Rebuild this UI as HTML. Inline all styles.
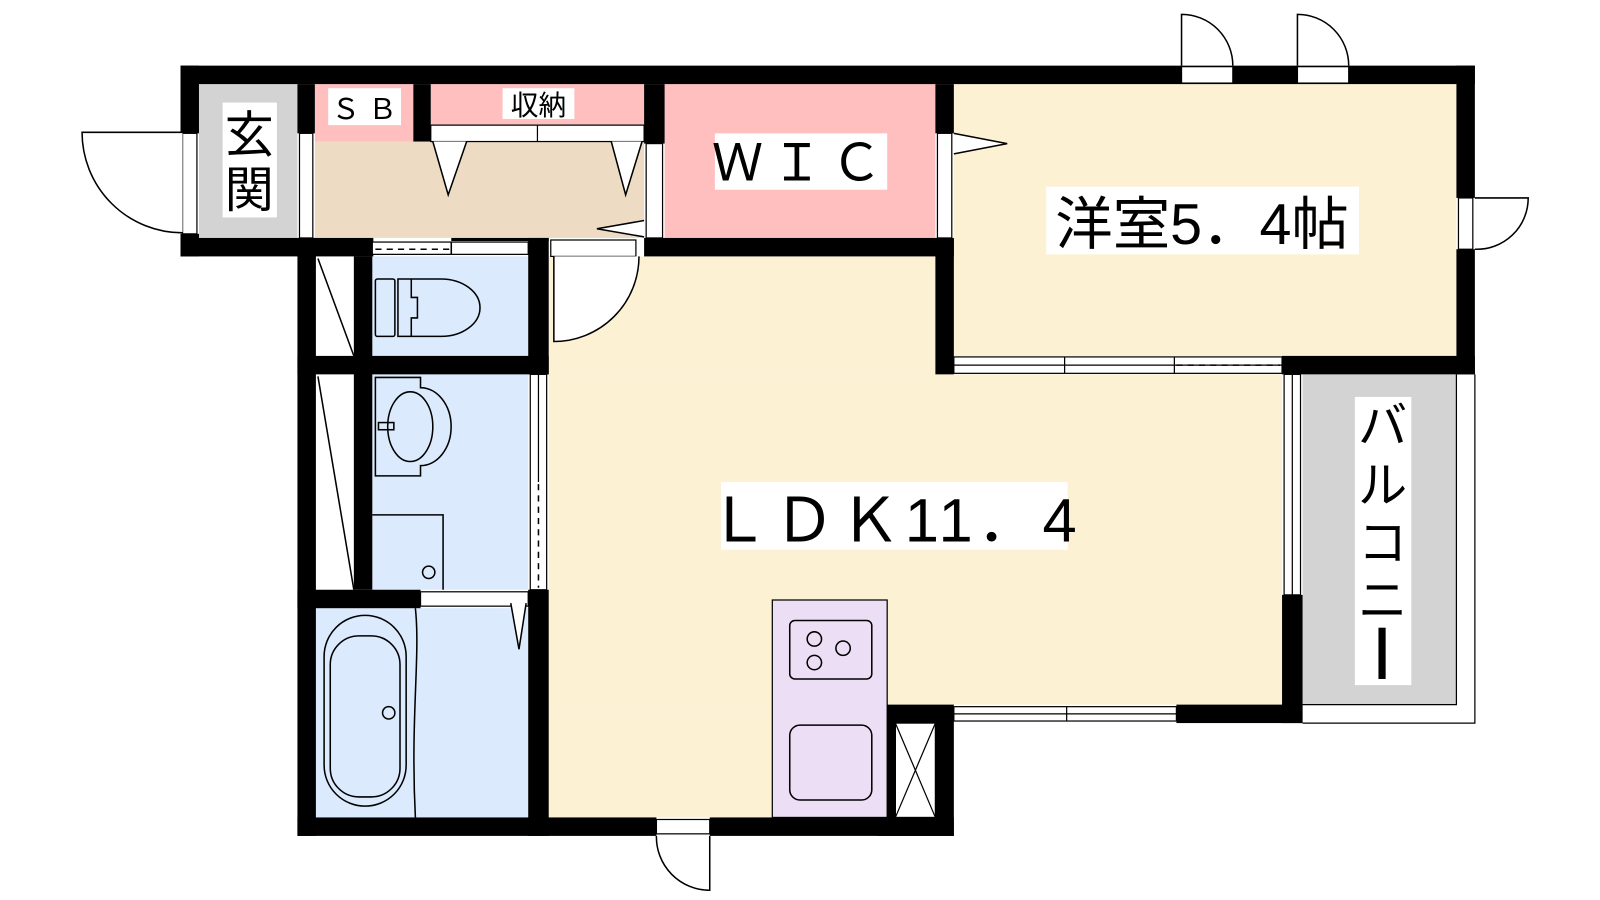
<!DOCTYPE html>
<html><head><meta charset="utf-8"><style>
html,body{margin:0;padding:0;background:#fff;}
svg{display:block}
text{font-family:"Liberation Sans","Noto Sans CJK JP",sans-serif;fill:#000}
</style></head><body>
<svg width="1600" height="900" viewBox="0 0 1560 877.5" xmlns="http://www.w3.org/2000/svg">
<!-- fills -->
<rect x="194" y="82" width="96" height="150" fill="#d3d3d3"/>
<rect x="307" y="82" width="96" height="56" fill="#ffbfbf"/>
<rect x="420" y="82" width="208" height="40" fill="#ffbfbf"/>
<rect x="307" y="138" width="321" height="94" fill="#eddcc3"/>
<rect x="648" y="82" width="264" height="150" fill="#ffbfbf"/>
<rect x="930" y="82" width="490" height="265" fill="#fdf1d3"/>
<rect x="535" y="250" width="377" height="115" fill="#fdf1d3"/>
<rect x="535" y="365" width="715" height="322" fill="#fdf1d3"/>
<rect x="535" y="687" width="320" height="110" fill="#fdf1d3"/>
<rect x="1270" y="365" width="150" height="322" fill="#d3d3d3"/>
<rect x="363" y="250" width="152" height="97" fill="#dbeafd"/>
<rect x="363" y="365" width="152" height="210" fill="#dbeafd"/>
<rect x="308" y="593" width="207" height="204" fill="#dbeafd"/>
<rect x="308" y="250" width="37" height="97" fill="#fff"/>
<rect x="308" y="365" width="37" height="210" fill="#fff"/>
<!-- walls -->
<g fill="#000">
<rect x="176" y="64" width="1262" height="18"/>
<rect x="176" y="64" width="18" height="66"/>
<rect x="176" y="228" width="18" height="22"/>
<rect x="176" y="232" width="188" height="18"/>
<rect x="290" y="82" width="17" height="48"/>
<rect x="403" y="82" width="17" height="56"/>
<rect x="628" y="82" width="20" height="58"/>
<rect x="628" y="232" width="302" height="18"/>
<rect x="440" y="232" width="95" height="3"/>
<rect x="515" y="232" width="20" height="133"/>
<rect x="912" y="82" width="18" height="48"/>
<rect x="912" y="232" width="18" height="133"/>
<rect x="1420" y="64" width="18" height="129"/>
<rect x="1420" y="243" width="18" height="122"/>
<rect x="1250" y="347" width="188" height="18"/>
<rect x="290" y="232" width="18" height="583"/>
<rect x="345" y="250" width="18" height="325"/>
<rect x="290" y="347" width="245" height="18"/>
<rect x="515" y="575" width="20" height="240"/>
<rect x="290" y="575" width="120" height="18"/>
<rect x="290" y="797" width="350" height="18"/>
<rect x="692" y="797" width="238" height="18"/>
<rect x="855" y="687" width="75" height="128"/>
<rect x="1147" y="687" width="123" height="18"/>
<rect x="1250" y="580" width="20" height="125"/>
</g>
<!-- openings / windows -->
<g fill="#fff" stroke="#000" stroke-width="1.2">
<rect x="178" y="130" width="14" height="98"/>
<rect x="292" y="130" width="13" height="102"/>
<rect x="420" y="122" width="208" height="16"/>
<line x1="524" y1="122" x2="524" y2="138"/>
<rect x="630" y="140" width="16" height="92"/>
<rect x="914" y="130" width="14" height="102"/>
<rect x="1422" y="193" width="14" height="50"/>
<rect x="1152" y="65" width="50" height="16"/>
<rect x="1265" y="65" width="50" height="16"/>
<rect x="363" y="236" width="152" height="12"/>
<rect x="537" y="234" width="83" height="16"/>
<rect x="930" y="348" width="320" height="16"/>
<line x1="930" y1="356" x2="1250" y2="356"/>
<line x1="1038" y1="348" x2="1038" y2="364"/>
<line x1="1145" y1="348" x2="1145" y2="364"/>
<rect x="1252" y="365" width="16" height="215"/>
<line x1="1260" y1="365" x2="1260" y2="580"/>
<rect x="517" y="365" width="16" height="210"/>
<line x1="525" y1="365" x2="525" y2="470"/>
<rect x="410" y="577" width="105" height="14"/>
<rect x="930" y="689" width="217" height="14"/>
<line x1="930" y1="696" x2="1147" y2="696"/>
<line x1="1040" y1="689" x2="1040" y2="703"/>
<rect x="640" y="799" width="52" height="14"/>
<rect x="873" y="705" width="39" height="92"/>
<line x1="873" y1="705" x2="912" y2="797"/>
<line x1="912" y1="705" x2="873" y2="797"/>
<!-- balcony rail -->
<polyline points="1438,365 1438,705 1270,705" fill="none"/>
<polyline points="1420,365 1420,687 1270,687" fill="none"/>
</g>
<g stroke="#000" stroke-width="1.5" fill="none">
<line x1="440" y1="236" x2="440" y2="248"/>
<line x1="366" y1="243" x2="438" y2="243" stroke-dasharray="6,5"/>
<line x1="1147" y1="356" x2="1248" y2="356" stroke-dasharray="6,5"/>
<line x1="525" y1="472" x2="525" y2="573" stroke-dasharray="6,5"/>
<!-- doors -->
<path d="M178,129 L80,129 A98,98 0 0 0 178,227" fill="#fff"/>
<path d="M540,250 L540,333 A83,83 0 0 0 623,250" fill="#fff"/>
<path d="M1152,64 L1152,14 A50,50 0 0 1 1202,64"/>
<path d="M1265,64 L1265,14 A50,50 0 0 1 1315,64"/>
<path d="M1438,193 L1490,193 A50,50 0 0 1 1438,243"/>
<path d="M692,815 L692,868 A52,52 0 0 1 640,815"/>
<!-- triangles -->
<path d="M422,138 L437,190 L455,138" fill="#fff"/>
<path d="M596,138 L610,190 L626,138" fill="#fff"/>
<path d="M628,215 L582,223 L628,231" fill="#fff"/>
<path d="M930,130 L982,140 L930,150" fill="#fff"/>
<path d="M498,588 L506,633 L513,588" fill="#fff"/>
<!-- pipe diagonals -->
<line x1="310" y1="252" x2="345" y2="347"/>
<line x1="310" y1="367" x2="345" y2="575"/>
<!-- toilet -->
<rect x="366" y="272" width="19" height="56" rx="2"/>
<path d="M388,272 L430,272 A38,28 0 0 1 430,328 L388,328 Z"/>
<path d="M401,272 L401,290 L407,290 L407,310 L401,310 L401,328"/>
<!-- washbasin -->
<path d="M366,368 L410,368 L410,378 A22,28 0 0 1 410,454 L410,464 L366,464 Z"/>
<ellipse cx="400" cy="416" rx="22" ry="34"/>
<rect x="369" y="412" width="15" height="7"/>
<!-- washing machine -->
<polyline points="363,502 432,502 432,575"/>
<circle cx="418" cy="558" r="6"/>
<!-- bath -->
<path d="M405,593 C410,640 400,700 405,797"/>
<rect x="316" y="600" width="80" height="186" rx="40" ry="40"/>
<rect x="322" y="620" width="68" height="157" rx="28" ry="28"/>
<circle cx="379" cy="695" r="6"/>
<!-- kitchen -->
<rect x="753" y="585" width="112" height="212" fill="#ecdff5" stroke-width="1.2"/>
<rect x="770" y="605" width="80" height="57" rx="5"/>
<rect x="770" y="707" width="80" height="73" rx="10"/>
<circle cx="794" cy="623" r="7"/><circle cx="794" cy="646" r="7"/><circle cx="822" cy="632" r="7"/>
</g>
<!-- labels -->
<rect x="217" y="100" width="53" height="112" fill="#fff"/>
<text x="243" y="148" font-size="48" text-anchor="middle">玄</text>
<text x="243" y="202" font-size="48" text-anchor="middle">関</text>
<rect x="320" y="86" width="71" height="36" fill="#fff"/>
<text x="355" y="116" font-size="28" text-anchor="middle">Ｓ Ｂ</text>
<rect x="490" y="86" width="70" height="30" fill="#fff"/>
<text x="525" y="112" font-size="27" text-anchor="middle">収納</text>
<rect x="697" y="130" width="168" height="55" fill="#fff"/>
<text x="781" y="176" font-size="50" text-anchor="middle" letter-spacing="8">ＷＩＣ</text>
<rect x="1020" y="182" width="305" height="66" fill="#fff"/>
<text x="1172" y="238" font-size="56" text-anchor="middle">洋室5．4帖</text>
<rect x="703" y="470" width="338" height="66" fill="#fff"/>
<text x="872" y="528" font-size="60" text-anchor="middle" letter-spacing="4">ＬＤＫ11．4</text>
<rect x="1321" y="387" width="55" height="281" fill="#fff"/>
<text x="1348" y="432" font-size="48" text-anchor="middle">バ</text>
<text x="1348" y="490" font-size="48" text-anchor="middle">ル</text>
<text x="1348" y="546" font-size="48" text-anchor="middle">コ</text>
<text x="1348" y="602" font-size="48" text-anchor="middle">ニ</text>
<rect x="1344" y="612" width="7" height="50" fill="#000"/>
</svg>
</body></html>
